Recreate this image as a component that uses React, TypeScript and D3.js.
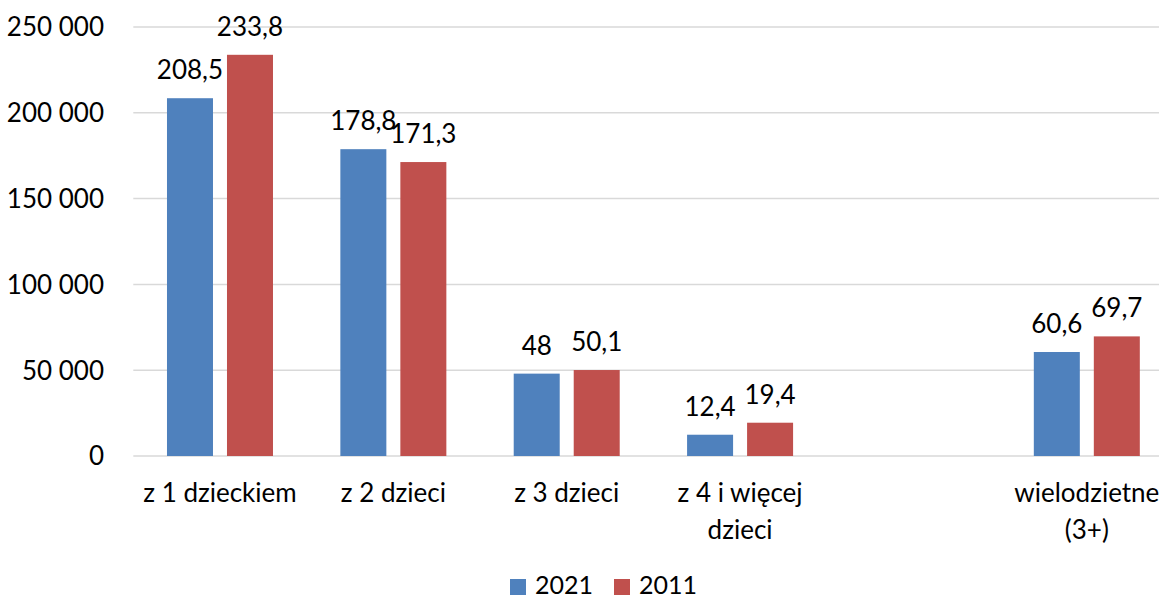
import React from "react";
import * as d3 from "d3";

const categories = ["z 1 dzieckiem", "z 2 dzieci", "z 3 dzieci", "z 4 i więcej dzieci", "", "wielodzietne (3+)"];
const categoryLines = [["z 1 dzieckiem"], ["z 2 dzieci"], ["z 3 dzieci"], ["z 4 i więcej", "dzieci"], [], ["wielodzietne", "(3+)"]];
const seriesNames = ["2021", "2011"];
const values2021: (number | null)[] = [208500, 178800, 48000, 12400, null, 60600];
const values2011: (number | null)[] = [233800, 171300, 50100, 19400, null, 69700];
const yTicks = [0, 50000, 100000, 150000, 200000, 250000];
const colors = ["#4F81BD", "#C0504D"];

const FONT = "Lato, 'Open Sans', sans-serif";

export default function App() {
  const W = 1159, H = 598;
  const left = 133.3, right = 1173.5, top = 27, bottom = 456;
  const x0 = d3.scaleBand().domain(categories.map((_, i) => String(i))).range([left, right]).paddingInner(0).paddingOuter(0);
  const bw = x0.bandwidth();
  const x1 = d3.scaleBand().domain(seriesNames).range([bw / 2 - 53, bw / 2 + 53]).paddingInner(14 / 60).paddingOuter(0);
  const y = d3.scaleLinear().domain([0, 250000]).range([bottom, top]);
  const series = [values2021, values2011];
  const fmtTick = (v: number) => (v === 0 ? "0" : d3.format(",")(v).replace(/,/g, " "));
  const fmtLabel = (v: number) => String(Math.round(v / 100) / 10).replace(".", ",");

  return (
    <svg width={W} height={H} style={{ position: "absolute", left: 0, top: 0, background: "#fff" }} fontFamily={FONT}>
      {yTicks.map((t) => (
        <g key={t}>
          <line x1={left} x2={right} y1={y(t)} y2={y(t)} stroke="#d9d9d9" strokeWidth={1.5} />
          <text x={104} y={y(t)} dy="0.36em" textAnchor="end" fontSize={26} fill="#000">
            {fmtTick(t)}
          </text>
        </g>
      ))}
      {categories.map((c, i) => (
        <g key={i} transform={`translate(${x0(String(i))},0)`}>
          {series.map((vals, s) => {
            const v = vals[i];
            if (v == null) return null;
            const bx = x1(seriesNames[s])!;
            return (
              <g key={s}>
                <rect x={bx} y={y(v)} width={x1.bandwidth()} height={bottom - y(v)} fill={colors[s]} />
                <text x={bx + x1.bandwidth() / 2} y={y(v) - 19} textAnchor="middle" fontSize={26} fill="#000">
                  {fmtLabel(v)}
                </text>
              </g>
            );
          })}
          {categoryLines[i].map((line, k) => (
            <text key={k} x={bw / 2} y={502 + k * 37} textAnchor="middle" fontSize={26} fill="#000">
              {line}
            </text>
          ))}
        </g>
      ))}
      {seriesNames.map((n, s) => (
        <g key={n} transform={`translate(${510 + s * 104},0)`}>
          <rect x={0} y={579} width={16} height={16} fill={colors[s]} />
          <text x={25} y={594} fontSize={25} fill="#000">
            {n}
          </text>
        </g>
      ))}
    </svg>
  );
}
